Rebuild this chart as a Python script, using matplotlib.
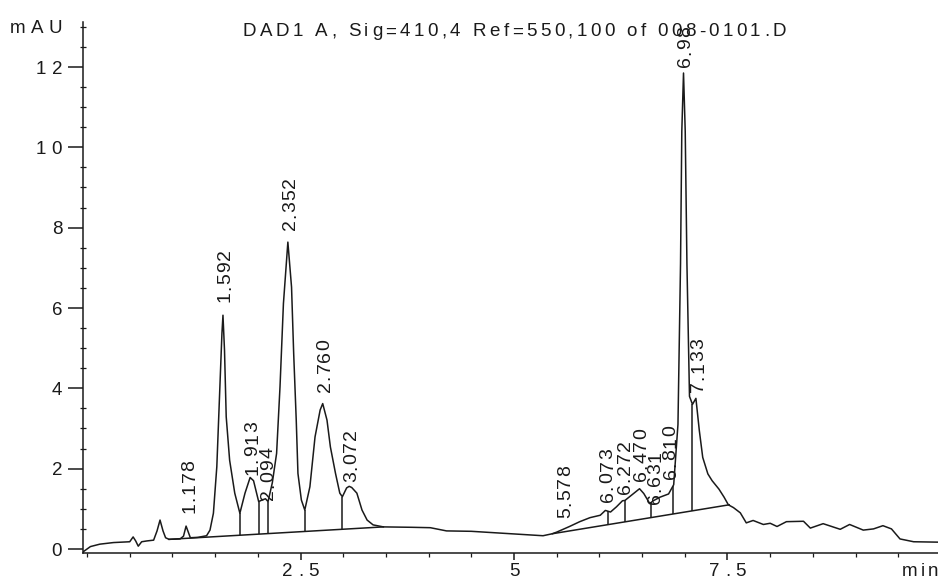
import numpy as np
import matplotlib
matplotlib.use("Agg")
import matplotlib.pyplot as plt
import matplotlib.font_manager as fm
from matplotlib.transforms import offset_copy
from matplotlib.ticker import FixedLocator, MultipleLocator

# detector trace, retention time (min) vs absorbance (mAU)
TIME = [-0.045, 0.00, 0.04, 0.15, 0.31, 0.50, 0.54, 0.57, 0.60, 0.64, 0.70, 0.78,
        0.82, 0.855, 0.89, 0.92, 0.96, 1.09, 1.13, 1.16, 1.19, 1.21, 1.30, 1.40,
        1.44, 1.48, 1.52, 1.55, 1.58, 1.592, 1.61, 1.63, 1.67, 1.73, 1.79, 1.85,
        1.91, 1.95, 1.99, 2.01, 2.05, 2.09, 2.12, 2.17, 2.22, 2.26, 2.30, 2.352,
        2.395, 2.42, 2.45, 2.47, 2.51, 2.55, 2.61, 2.67, 2.73, 2.76, 2.81, 2.85,
        2.91, 2.96, 2.99, 3.04, 3.07, 3.10, 3.16, 3.22, 3.28, 3.35, 3.47, 3.80,
        4.02, 4.21, 4.50, 4.80, 5.10, 5.34, 5.45, 5.50, 5.65, 5.77, 5.89, 6.01,
        6.07, 6.13, 6.20, 6.27, 6.30, 6.40, 6.47, 6.52, 6.59, 6.63, 6.71, 6.81,
        6.87, 6.92, 6.95, 6.965, 6.985, 7.005, 7.025, 7.055, 7.09, 7.13, 7.17,
        7.21, 7.27, 7.32, 7.40, 7.46, 7.51, 7.57, 7.65, 7.72, 7.80, 7.92, 8.00,
        8.08, 8.19, 8.39, 8.47, 8.62, 8.82, 8.93, 9.09, 9.21, 9.32, 9.42, 9.52,
        9.68, 9.97]
SIGNAL = [-0.07, 0.00, 0.06, 0.12, 0.16, 0.18, 0.30, 0.20, 0.07, 0.18, 0.20, 0.22,
          0.45, 0.72, 0.45, 0.28, 0.24, 0.25, 0.32, 0.57, 0.40, 0.28, 0.29, 0.33,
          0.47, 0.89, 2.05, 3.70, 5.37, 5.82, 4.95, 3.29, 2.21, 1.39, 0.89, 1.39,
          1.78, 1.70, 1.35, 1.18, 1.22, 1.25, 1.18, 1.65, 2.38, 4.04, 6.11, 7.64,
          6.52, 4.87, 3.21, 1.88, 1.22, 0.97, 1.55, 2.79, 3.46, 3.62, 3.21, 2.54,
          1.88, 1.39, 1.30, 1.52, 1.56, 1.53, 1.39, 0.97, 0.72, 0.60, 0.55, 0.54,
          0.53, 0.45, 0.44, 0.40, 0.36, 0.33, 0.38, 0.42, 0.56, 0.68, 0.78, 0.84,
          0.96, 0.92, 1.05, 1.20, 1.21, 1.38, 1.50, 1.38, 1.13, 1.20, 1.29, 1.37,
          1.60, 3.10, 7.10, 10.40, 11.85, 10.40, 7.10, 3.80, 3.60, 3.75, 2.95,
          2.28, 1.87, 1.70, 1.49, 1.29, 1.10, 1.03, 0.90, 0.65, 0.71, 0.61, 0.64,
          0.56, 0.68, 0.69, 0.52, 0.63, 0.49, 0.61, 0.47, 0.50, 0.58, 0.50, 0.25,
          0.18, 0.17]

# integrator baselines: (start, end) times and levels
BASE_T = [(0.96, 3.47), (5.45, 7.52)]
BASE_V = [(0.24, 0.55), (0.38, 1.10)]

# peak cut positions (drop lines)
DROP_T = [1.79, 2.01, 2.12, 2.55, 2.99, 6.10, 6.30, 6.61, 6.86, 7.09]

PEAK_LABELS = ["1.178", "1.592", "1.913", "2.094", "2.352", "2.760", "3.072",
               "5.578", "6.073", "6.272", "6.470", "6.631", "6.810", "6.98", "7.133"]
LABEL_FROM = [0.90, 6.15, 1.85, 1.22, 7.94, 3.91, 1.66,
              0.77, 1.18, 1.38, 1.69, 1.12, 1.75, 11.99, 3.92]

YTICKS = [0, 2, 4, 6, 8, 10, 12]
XTICKS = [2.5, 5, 7.5]
XTICK_TEXT = ["2.5", "5", "7.5"]
TITLE = "DAD1 A, Sig=410,4 Ref=550,100 of 008-0101.D"

FAMILY = "Liberation Sans"
INK = "#1a1a1a"
SIZE = 13.5
LW = 1.1
_ft = fm.get_font(fm.findfont(fm.FontProperties(family=FAMILY)))

fig = plt.figure(figsize=(9.38, 5.81), dpi=100)
ax = fig.add_axes([83 / 938, 28 / 581, 855 / 938, 531 / 581])


def spaced(x, y, s, trans, size=SIZE, track=0.0, ha="left", dx=0.0, dy=0.0, vertical=False):
    """Write s one glyph at a time so the letter spacing (points) can be widened."""
    _ft.set_size(size, 72)
    adv = [_ft.load_char(ord(c)).linearHoriAdvance / 65536 for c in s]
    total = sum(adv) + track * (len(s) - 1)
    pos = {"left": 0.0, "center": -total / 2, "right": -total}[ha]
    cap = 0.716 * size
    for c, a in zip(s, adv):
        if vertical:
            tr = offset_copy(trans, fig=fig, x=dx + cap / 2, y=dy + pos, units="points")
        else:
            tr = offset_copy(trans, fig=fig, x=dx + pos, y=dy, units="points")
        ax.text(x, y, c, transform=tr, rotation=90 if vertical else 0,
                rotation_mode="anchor", ha="left", va="baseline",
                fontsize=size, family=FAMILY, color=INK, clip_on=False)
        pos += a + track


def baseline_at(t):
    for (t0, t1), (v0, v1) in zip(BASE_T, BASE_V):
        if t0 <= t <= t1:
            return v0 + (v1 - v0) * (t - t0) / (t1 - t0)
    return np.nan


ax.plot(TIME, SIGNAL, color=INK, lw=LW, solid_joinstyle="round")
for bt, bv in zip(BASE_T, BASE_V):
    ax.plot(bt, bv, color=INK, lw=LW)
drop_lo = [baseline_at(t) for t in DROP_T]
drop_hi = np.interp(DROP_T, TIME, SIGNAL)
ax.vlines(DROP_T, drop_lo, drop_hi, color=INK, lw=LW)

for lab, v in zip(PEAK_LABELS, LABEL_FROM):
    spaced(float(lab), v, lab, ax.transData, size=14, track=0.8, vertical=True)

ax.set_xlim(-0.047, 9.965)
ax.set_ylim(-0.1, 13.12)
for side in ("top", "right"):
    ax.spines[side].set_visible(False)
for side in ("left", "bottom"):
    ax.spines[side].set_color(INK)
    ax.spines[side].set_linewidth(1.1)

ax.xaxis.set_major_locator(FixedLocator(XTICKS))
ax.xaxis.set_minor_locator(MultipleLocator(0.5))
ax.yaxis.set_major_locator(FixedLocator(YTICKS))
ax.yaxis.set_minor_locator(MultipleLocator(0.5))
ax.tick_params(axis="y", which="major", direction="out", length=10.5, width=1.1, color=INK)
ax.tick_params(axis="y", which="minor", direction="inout", length=4, width=0.9, color=INK)
ax.tick_params(axis="x", which="major", direction="out", length=5, width=1.1, color=INK)
ax.tick_params(axis="x", which="minor", direction="out", length=3, width=0.9, color=INK)
ax.tick_params(labelleft=False, labelbottom=False)

# tick labels, axis units and header
ytr = ax.get_yaxis_transform()
for v in YTICKS:
    spaced(0, v, str(v), ytr, track=4.0, ha="right", dx=-15.0, dy=-0.716 * SIZE / 2)
xtr = ax.get_xaxis_transform()
for t, s in zip(XTICKS, XTICK_TEXT):
    spaced(t, 0, s, xtr, track=3.6, ha="center", dy=-16.8)

spaced(0.958, 0, "min", ax.transAxes, track=2.0, dy=-16.8)
spaced(10 / 938, 1 - 33 / 581, "mAU", fig.transFigure, track=3.8)
spaced(514.5 / 938, 1 - 36.5 / 581, TITLE, fig.transFigure, track=2.45, ha="center")

fig.savefig("out.png", dpi=100, facecolor="white")
